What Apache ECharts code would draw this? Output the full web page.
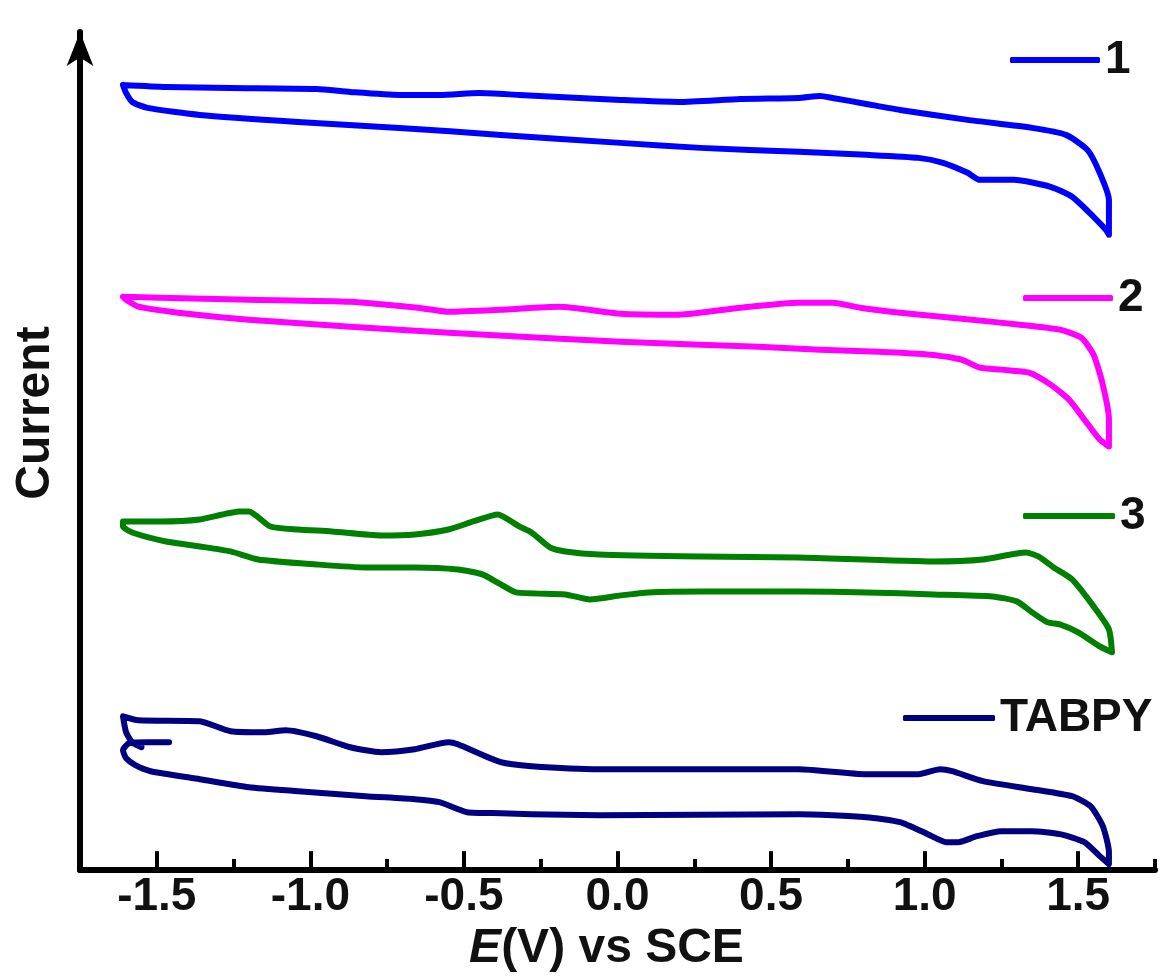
<!DOCTYPE html>
<html>
<head>
<meta charset="utf-8">
<script src="https://cdn.jsdelivr.net/npm/echarts@6/dist/echarts.min.js"></script>
<style>
  html, body { margin: 0; padding: 0; background: #fff; }
  #chart { width: 1161px; height: 978px; }
</style>
</head>
<body>
<div id="chart"></div>
<script>
// cyclic voltammograms, [E (V vs SCE), current (a.u., offset)]
const names = ['1', '2', '3', 'TABPY']
const colors = ['#0000ff', '#ff00ff', '#008000', '#000080']

const cv1 = [
  [-1.61, 78.6], [-1.47, 78.4], [-1.26, 78.3], [-0.98, 78.2], [-0.87, 77.9], [-0.71, 77.6],
  [-0.58, 77.6], [-0.45, 77.8], [-0.32, 77.6], [-0.19, 77.4], [0.01, 77.1], [0.20, 76.9],
  [0.40, 77.2], [0.59, 77.3], [0.66, 77.5], [0.70, 77.3], [0.81, 76.7], [0.92, 76.1],
  [1.14, 75.1], [1.35, 74.3], [1.46, 73.6], [1.53, 72.1], [1.57, 69.8], [1.60, 67.1],
  [1.60, 63.6], [1.59, 64.1], [1.55, 65.4], [1.48, 67.4], [1.41, 68.4], [1.29, 69.1],
  [1.18, 69.1], [1.14, 69.8], [1.06, 70.8], [0.98, 71.3], [0.81, 71.6], [0.59, 71.9],
  [0.27, 72.3], [0.01, 72.8], [-0.38, 73.6], [-0.71, 74.3], [-1.04, 74.9], [-1.36, 75.6],
  [-1.53, 76.3], [-1.58, 76.9], [-1.60, 77.8], [-1.61, 78.6]
]

const cv2 = [
  [-1.61, 57.4], [-1.49, 57.3], [-1.20, 57.1], [-0.87, 56.9], [-0.65, 56.3], [-0.55, 55.9],
  [-0.38, 56.1], [-0.19, 56.4], [0.01, 55.7], [0.20, 55.6], [0.40, 56.3], [0.59, 56.8],
  [0.70, 56.8], [0.79, 56.3], [0.92, 55.8], [1.12, 55.2], [1.31, 54.6], [1.44, 54.1],
  [1.51, 53.3], [1.55, 51.6], [1.58, 48.6], [1.60, 45.1], [1.60, 42.4], [1.57, 43.1],
  [1.52, 45.1], [1.47, 47.1], [1.41, 48.6], [1.34, 49.8], [1.25, 50.1], [1.18, 50.3],
  [1.12, 51.1], [1.02, 51.6], [0.85, 51.9], [0.66, 52.1], [0.46, 52.4], [0.27, 52.6],
  [0.01, 52.9], [-0.25, 53.3], [-0.55, 53.8], [-0.87, 54.4], [-1.20, 55.1], [-1.43, 55.8],
  [-1.56, 56.4], [-1.60, 57.1], [-1.61, 57.4]
]

const cv3 = [
  [-1.61, 34.9], [-1.49, 34.9], [-1.36, 35.1], [-1.23, 35.9], [-1.20, 35.9], [-1.13, 34.4],
  [-1.04, 34.1], [-0.93, 33.9], [-0.77, 33.5], [-0.66, 33.6], [-0.55, 34.1], [-0.47, 34.9],
  [-0.39, 35.6], [-0.32, 34.4], [-0.28, 33.8], [-0.22, 32.3], [-0.17, 31.9], [-0.06, 31.6],
  [0.27, 31.4], [0.59, 31.3], [1.03, 30.9], [1.19, 31.1], [1.33, 31.8], [1.37, 31.4],
  [1.42, 30.3], [1.48, 29.1], [1.55, 26.4], [1.60, 24.1], [1.61, 21.8], [1.57, 22.4],
  [1.50, 23.8], [1.44, 24.6], [1.40, 24.8], [1.35, 25.8], [1.30, 26.9], [1.22, 27.4],
  [1.03, 27.6], [0.81, 27.8], [0.59, 27.9], [0.27, 27.9], [0.10, 27.8], [0.01, 27.5],
  [-0.09, 27.1], [-0.17, 27.6], [-0.33, 27.8], [-0.38, 28.6], [-0.44, 29.6], [-0.52, 30.1],
  [-0.66, 30.3], [-0.82, 30.3], [-0.98, 30.6], [-1.17, 31.1], [-1.26, 31.9], [-1.36, 32.4],
  [-1.47, 32.9], [-1.58, 33.8], [-1.61, 34.4], [-1.61, 34.9]
]

const cvTabpy = [
  [-1.46, 12.8], [-1.53, 12.8], [-1.59, 12.7], [-1.61, 12.0], [-1.60, 11.2], [-1.57, 10.5],
  [-1.52, 9.9], [-1.36, 9.1], [-1.20, 8.3], [-1.04, 7.9], [-0.82, 7.4], [-0.66, 7.1],
  [-0.58, 6.8], [-0.49, 5.8], [-0.38, 5.7], [-0.28, 5.6], [-0.06, 5.5], [0.59, 5.6],
  [0.81, 5.3], [0.92, 4.8], [1.01, 3.6], [1.07, 2.8], [1.11, 2.8], [1.17, 3.4],
  [1.25, 3.9], [1.35, 3.9], [1.44, 3.6], [1.52, 2.8], [1.57, 1.4], [1.60, 0.6],
  [1.60, 1.8], [1.58, 4.4], [1.54, 6.4], [1.48, 7.4], [1.35, 8.1], [1.19, 8.9],
  [1.09, 9.9], [1.05, 10.1], [0.98, 9.6], [0.81, 9.6], [0.59, 10.1], [-0.06, 10.1],
  [-0.28, 10.4], [-0.38, 10.8], [-0.52, 12.6], [-0.55, 12.8], [-0.66, 12.1], [-0.77, 11.8],
  [-0.87, 12.3], [-0.98, 13.4], [-1.08, 14.0], [-1.15, 13.8], [-1.26, 13.9], [-1.36, 14.9],
  [-1.56, 15.0], [-1.61, 15.4], [-1.60, 13.8], [-1.58, 12.8], [-1.55, 12.3]
]

// x axis: short ticks every 0.25 V, long ones + labels every 0.5 V
const xMin = -1.75
const xMax = 1.75
const majorTicks = [-1.5, -1.0, -0.5, 0.0, 0.5, 1.0, 1.5]
const yMax = 83.9

const font = '"Liberation Sans", Arial, sans-serif'
const curves = [cv1, cv2, cv3, cvTabpy]
const plotHeight = 978 - 32 - 107
const majorTickLen = 19 * yMax / plotHeight   // 19 px, in current units

// one legend box per curve, placed next to its trace
const legendPos = [
  { left: 1005, top: 32, w: 90 },
  { left: 1018, top: 270, w: 90 },
  { left: 1018, top: 488, w: 92 },
  { left: 898, top: 690, w: 92 }
]

let series = curves.map((d, i) => ({
  name: names[i],
  type: 'line',
  data: d,
  symbol: 'none',
  smooth: 0.2,
  color: colors[i],
  lineStyle: { width: 6, color: colors[i], cap: 'round', join: 'round' }
}))

// long major ticks, drawn as short vertical mark lines standing on the x axis
series[3].markLine = {
  silent: true,
  symbol: ['none', 'none'],
  label: { show: false },
  emphasis: { disabled: true },
  lineStyle: { color: '#000', width: 4, type: 'solid' },
  data: majorTicks.map(v => [{ coord: [v, 0] }, { coord: [v, majorTickLen] }])
}

let option = {
  animation: false,
  grid: { left: 80, right: 6, top: 32, bottom: 107 },
  legend: legendPos.map((p, i) => ({
    data: [names[i]],
    left: p.left,
    top: p.top,
    icon: 'roundRect',
    itemWidth: p.w,
    itemHeight: 6,
    selectedMode: false,
    textStyle: { fontSize: 46, fontWeight: 'bold', color: '#111', fontFamily: font }
  })),
  xAxis: {
    type: 'value',
    min: xMin,
    max: xMax,
    interval: 0.25,
    name: '{i|E}(V) vs SCE',
    nameLocation: 'middle',
    nameGap: 53,
    nameTextStyle: {
      fontSize: 48, fontWeight: 'bold', color: '#111', fontFamily: font,
      padding: [0, 22, 0, 0],
      rich: { i: { fontSize: 48, fontWeight: 'bold', fontStyle: 'italic', color: '#111', fontFamily: font } }
    },
    axisLine: { onZero: false, lineStyle: { color: '#000', width: 6 } },
    axisTick: { show: true, inside: true, length: 11, lineStyle: { color: '#000', width: 4 } },
    axisLabel: {
      margin: 4, fontSize: 46, fontWeight: 'bold', color: '#111', fontFamily: font,
      formatter: v => {
        if (Math.round(v * 4) % 2 !== 0) return ''
        return Math.abs(v) < 1e-9 ? '0.0' : v.toFixed(1)
      }
    },
    splitLine: { show: false }
  },
  yAxis: {
    type: 'value',
    min: 0,
    max: yMax,
    name: 'Current',
    nameLocation: 'middle',
    nameGap: 20,
    nameTextStyle: {
      fontSize: 48, fontWeight: 'bold', color: '#111', fontFamily: font,
      padding: [0, 0, 0, 76]
    },
    axisLine: {
      show: true,
      onZero: false,
      symbol: ['none', 'arrow'],
      symbolSize: [20, 34],
      lineStyle: { color: '#000', width: 6 }
    },
    axisTick: { show: false },
    axisLabel: { show: false },
    splitLine: { show: false }
  },
  series: series
}

let myChart = echarts.init(document.getElementById('chart'))
myChart.setOption(option)
</script>
</body>
</html>
